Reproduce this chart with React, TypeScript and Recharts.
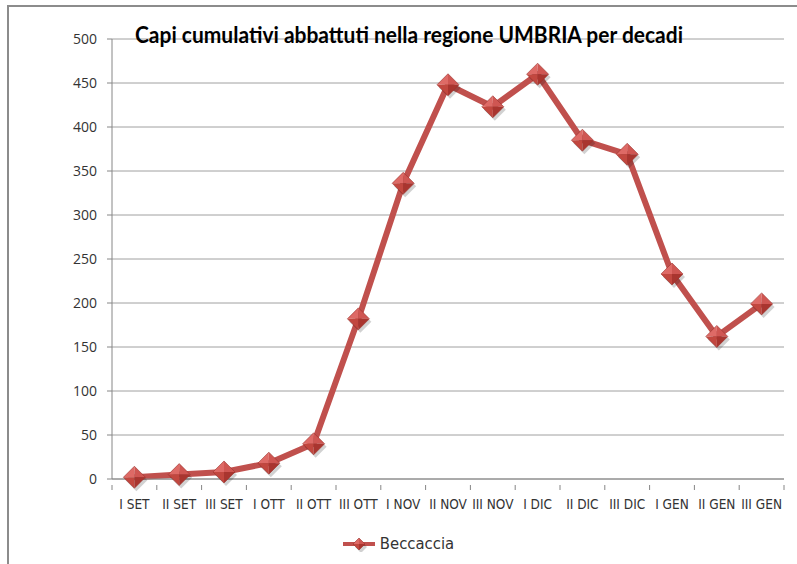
import React from 'react';
import { LineChart, Line, XAxis, YAxis, CartesianGrid, Legend } from 'recharts';

// decadi della stagione venatoria
const decades = [
  'I SET', 'II SET', 'III SET', 'I OTT', 'II OTT', 'III OTT', 'I NOV', 'II NOV',
  'III NOV', 'I DIC', 'II DIC', 'III DIC', 'I GEN', 'II GEN', 'III GEN',
];

// capi cumulativi di beccaccia
const beccaccia = [2, 5, 8, 18, 40, 182, 336, 448, 423, 460, 385, 369, 233, 162, 199];

const yTicks = [0, 50, 100, 150, 200, 250, 300, 350, 400, 450, 500];

const TITLE = 'Capi cumulativi abbattuti nella regione UMBRIA per decadi';
const SERIES_NAME = 'Beccaccia';

const LINE_COLOR = '#c0504d';
const AXIS_COLOR = '#868686';
const GRID_COLOR = '#a0a0a0';
const TEXT_COLOR = '#333333';
const NARROW_FONT = '"Liberation Sans Narrow", "DejaVu Sans Condensed", sans-serif';

const X_TICK_MARGIN = 14;

const data = decades.map((decade, i) => ({ decade, beccaccia: beccaccia[i] }));

// diamond marker with faceted shading, like the Excel bevel look
const DiamondShape = ({ cx, cy, r }: { cx: number; cy: number; r: number }) => (
  <g>
    <polygon
      points={`${cx + 2},${cy - r + 3} ${cx + r + 2},${cy + 3} ${cx + 2},${cy + r + 3} ${cx - r + 2},${cy + 3}`}
      fill="#000"
      opacity={0.18}
    />
    <polygon points={`${cx},${cy} ${cx},${cy - r} ${cx - r},${cy}`} fill="#de6a66" />
    <polygon points={`${cx},${cy} ${cx},${cy - r} ${cx + r},${cy}`} fill="#cf5652" />
    <polygon points={`${cx},${cy} ${cx - r},${cy} ${cx},${cy + r}`} fill="#c2473f" />
    <polygon points={`${cx},${cy} ${cx + r},${cy} ${cx},${cy + r}`} fill="#a9352f" />
    <polygon
      points={`${cx},${cy - r} ${cx + r},${cy} ${cx},${cy + r} ${cx - r},${cy}`}
      fill="none"
      stroke="#9b302c"
      strokeWidth={0.6}
    />
  </g>
);

const DiamondDot = (props: any) => {
  const { cx, cy } = props;
  if (cx == null || cy == null) return null;
  return <DiamondShape cx={cx} cy={cy} r={11} />;
};

// category label plus Excel-style tick marks on the band edges
const DecadeTick = (props: any) => {
  const { x, y, payload, index } = props;
  const half = payload.offset || 0;
  const axisY = y - X_TICK_MARGIN;
  return (
    <g>
      <line x1={x - half} x2={x - half} y1={axisY} y2={axisY + 5} stroke={AXIS_COLOR} />
      {index === decades.length - 1 && (
        <line x1={x + half} x2={x + half} y1={axisY} y2={axisY + 5} stroke={AXIS_COLOR} />
      )}
      <text
        x={x}
        y={y + 10}
        textAnchor="middle"
        fill={TEXT_COLOR}
        fontSize={13.5}
        fontFamily={NARROW_FONT}
      >
        {payload.value}
      </text>
    </g>
  );
};

const LegendContent = () => (
  <div style={{ display: 'flex', justifyContent: 'center', alignItems: 'center' }}>
    <svg width={34} height={16} style={{ marginRight: 3 }}>
      <line x1={0} x2={32} y1={8} y2={8} stroke={LINE_COLOR} strokeWidth={4} />
      <DiamondShape cx={16} cy={8} r={6} />
    </svg>
    <span style={{ fontFamily: NARROW_FONT, fontSize: 16.5, color: TEXT_COLOR }}>{SERIES_NAME}</span>
  </div>
);

export default function App() {
  return (
    <div
      style={{
        position: 'absolute',
        left: 0,
        top: 0,
        width: 797,
        height: 564,
        background: '#fff',
        overflow: 'hidden',
      }}
    >
      {/* outer chart frame, only top and left edges visible */}
      <div
        style={{
          position: 'absolute',
          left: 7,
          top: 5,
          width: 820,
          height: 600,
          borderTop: '2px solid #8c8c8c',
          borderLeft: '2px solid #8c8c8c',
        }}
      />
      <LineChart
        width={797}
        height={564}
        data={data}
        margin={{ top: 39, right: 13, left: 0, bottom: 55 }}
        style={{ position: 'absolute', left: 0, top: 0 }}
      >
        <CartesianGrid vertical={false} stroke={GRID_COLOR} />
        <XAxis
          dataKey="decade"
          scale="band"
          interval={0}
          height={30}
          tickLine={false}
          tickMargin={X_TICK_MARGIN}
          stroke={AXIS_COLOR}
          tick={<DecadeTick />}
        />
        <YAxis
          width={112}
          domain={[0, 500]}
          ticks={yTicks}
          interval={0}
          tickSize={5}
          tickMargin={10}
          stroke={AXIS_COLOR}
          tick={{ fill: TEXT_COLOR, fontSize: 14, fontFamily: '"Open Sans", sans-serif' }}
        />
        <Legend
          verticalAlign="middle"
          align="center"
          wrapperStyle={{ top: 534, left: 0, width: 797 }}
          content={<LegendContent />}
        />
        <Line
          type="linear"
          dataKey="beccaccia"
          name={SERIES_NAME}
          stroke={LINE_COLOR}
          strokeWidth={6}
          strokeLinejoin="round"
          dot={<DiamondDot />}
          activeDot={false}
          isAnimationActive={false}
        />
        <text
          x={409}
          y={43}
          textAnchor="middle"
          fontFamily="Lato, sans-serif"
          fontWeight="bold"
          fontSize={22}
          fill="#000"
          textLength={548}
          lengthAdjust="spacingAndGlyphs"
        >
          {TITLE}
        </text>
      </LineChart>
    </div>
  );
}
